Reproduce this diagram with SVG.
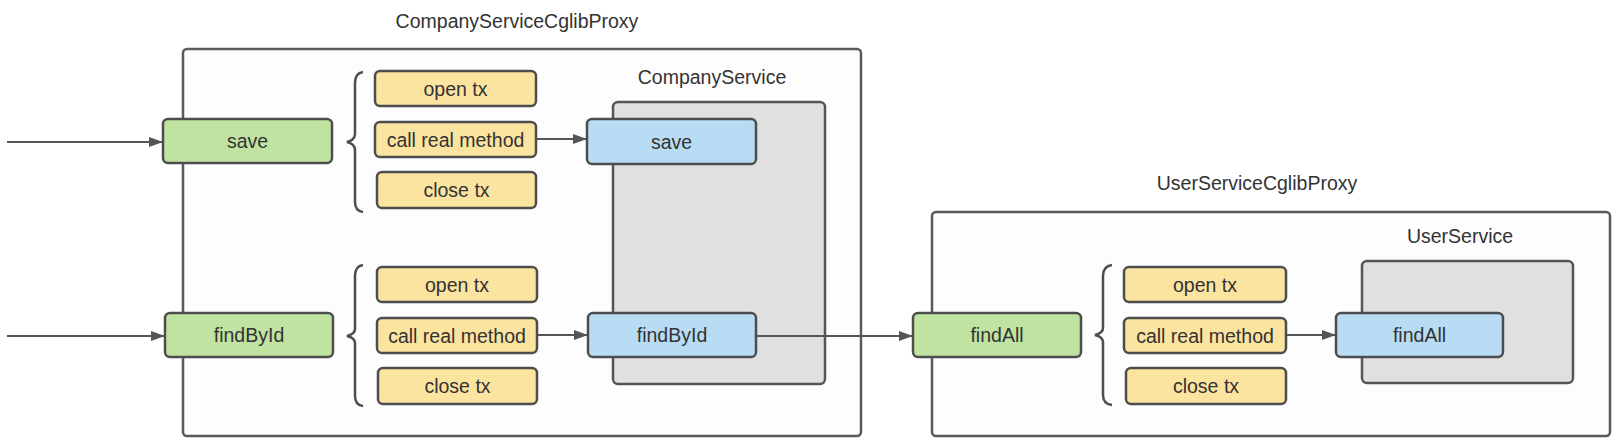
<svg xmlns="http://www.w3.org/2000/svg" width="1622" height="448" viewBox="0 0 1622 448">
<defs>
<marker id="arr" viewBox="0 0 14 10" refX="14" refY="5" markerWidth="14" markerHeight="10" markerUnits="userSpaceOnUse" orient="auto">
<path d="M0,0 L14,5 L0,10 Z" fill="#555"/>
</marker>
<style>
text{font-family:"Liberation Sans",Arial,sans-serif;fill:#333;text-anchor:middle;dominant-baseline:central;font-size:19.5px}
.outer{fill:#fdfdfd;stroke:#5a5a5a;stroke-width:2.5}
.gray{fill:#e0e0e0;stroke:#555;stroke-width:2.5}
.green{fill:#c0e3a2;stroke:#4d4d4d;stroke-width:2.5}
.blue{fill:#b8dcf4;stroke:#4d4d4d;stroke-width:2.5}
.yel{fill:#fbe3a0;stroke:#4d4d4d;stroke-width:2.5}
.brace{fill:none;stroke:#4d4d4d;stroke-width:2.5}
.c{fill:none;stroke:#555;stroke-width:2;marker-end:url(#arr)}
</style>
</defs>
<rect width="1622" height="448" fill="#ffffff"/>

<g id="companyProxy">
<rect class="outer" x="183" y="49" width="678" height="387" rx="4"/>
<text x="517" y="21">CompanyServiceCglibProxy</text>
</g>
<g id="companyService">
<rect class="gray" x="613" y="102" width="212" height="282" rx="5"/>
<text x="712" y="77">CompanyService</text>
</g>
<g id="userProxy">
<rect class="outer" x="932" y="212" width="678" height="224" rx="4"/>
<text x="1257" y="183">UserServiceCglibProxy</text>
</g>
<g id="userService">
<rect class="gray" x="1362" y="261" width="211" height="122" rx="5"/>
<text x="1460" y="236">UserService</text>
</g>

<g id="connectors">
<line class="c" x1="7" y1="142" x2="163" y2="142"/>
<line class="c" x1="536" y1="139" x2="587" y2="139"/>
<line class="c" x1="7" y1="336" x2="165" y2="336"/>
<line class="c" x1="537" y1="335" x2="588" y2="335"/>
<line class="c" x1="756" y1="336" x2="913" y2="336"/>
<line class="c" x1="1286" y1="335" x2="1336" y2="335"/>
</g>

<g id="braces">
<path class="brace" d="M363,72 Q355,73 355,83 L355,134 Q355,140 347,142 Q355,144 355,150 L355,202 Q355,211 363,212"/>
<path class="brace" d="M363,265 Q355,266 355,276 L355,329 Q355,334 347,336 Q355,338 355,343 L355,396 Q355,405 363,406"/>
<path class="brace" d="M1112,265 Q1103,266 1103,276 L1103,328 Q1103,333 1095,335 Q1103,337 1103,342 L1103,395 Q1103,404 1112,405"/>
</g>

<g id="saveProxy"><rect class="green" x="163" y="119" width="169" height="44" rx="5"/><text x="247.5" y="141">save</text></g>
<g id="findByIdProxy"><rect class="green" x="165" y="313" width="168" height="44" rx="5"/><text x="249" y="335">findById</text></g>
<g id="findAllProxy"><rect class="green" x="913" y="313" width="168" height="44" rx="5"/><text x="997" y="335">findAll</text></g>

<g id="saveReal"><rect class="blue" x="587" y="119" width="169" height="45" rx="5"/><text x="671.5" y="141.5">save</text></g>
<g id="findByIdReal"><rect class="blue" x="588" y="313" width="168" height="44" rx="5"/><text x="672" y="335">findById</text></g>
<g id="findAllReal"><rect class="blue" x="1336" y="313" width="167" height="44" rx="5"/><text x="1419.5" y="335">findAll</text></g>

<g id="openTx1"><rect class="yel" x="375" y="71" width="161" height="35" rx="5"/><text x="455.5" y="88.5">open tx</text></g>
<g id="callReal1"><rect class="yel" x="375" y="122" width="161" height="35" rx="5"/><text x="455.5" y="139.5">call real method</text></g>
<g id="closeTx1"><rect class="yel" x="377" y="172" width="159" height="36" rx="5"/><text x="456.5" y="190">close tx</text></g>

<g id="openTx2"><rect class="yel" x="377" y="267" width="160" height="35" rx="5"/><text x="457" y="284.5">open tx</text></g>
<g id="callReal2"><rect class="yel" x="377" y="318" width="160" height="35" rx="5"/><text x="457" y="335.5">call real method</text></g>
<g id="closeTx2"><rect class="yel" x="378" y="368" width="159" height="36" rx="5"/><text x="457.5" y="386">close tx</text></g>

<g id="openTx3"><rect class="yel" x="1124" y="267" width="162" height="35" rx="5"/><text x="1205" y="284.5">open tx</text></g>
<g id="callReal3"><rect class="yel" x="1124" y="318" width="162" height="35" rx="5"/><text x="1205" y="335.5">call real method</text></g>
<g id="closeTx3"><rect class="yel" x="1126" y="368" width="160" height="36" rx="5"/><text x="1206" y="386">close tx</text></g>
</svg>
